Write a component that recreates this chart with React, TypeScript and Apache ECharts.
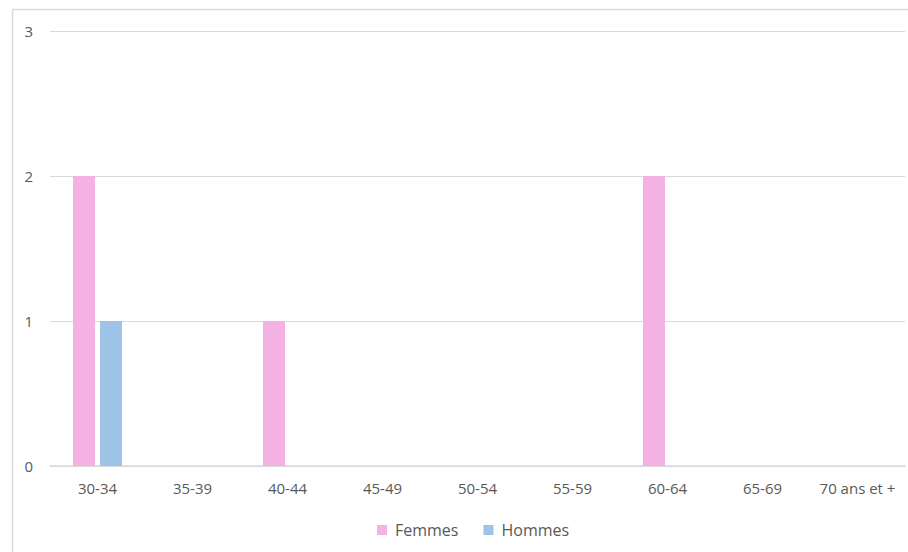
import React, { useEffect, useRef } from "react";
import * as echarts from "echarts";

const categories = ["30-34", "35-39", "40-44", "45-49", "50-54", "55-59", "60-64", "65-69", "70 ans et +"];
const femmes = [2, 0, 1, 0, 0, 0, 2, 0, 0];
const hommes = [1, 0, 0, 0, 0, 0, 0, 0, 0];
const seriesNames = ["Femmes", "Hommes"];
const yTicks = [0, 1, 2, 3];

export default function App() {
  const ref = useRef<HTMLDivElement>(null);
  useEffect(() => {
    if (!ref.current) return;
    const chart = echarts.init(ref.current, undefined, { renderer: "svg" });
    const font = "'Open Sans', sans-serif";
    chart.setOption({
      animation: false,
      backgroundColor: "#ffffff",
      textStyle: { fontFamily: font },
      graphic: [
        {
          type: "rect",
          shape: { x: 12.5, y: 9.5, width: 1000, height: 1000 },
          style: { fill: "none", stroke: "#d9d9d9", lineWidth: 1.5 },
          silent: true,
        },
      ],
      grid: { left: 50, right: 3, top: 31, bottom: 86, containLabel: false },
      legend: {
        data: seriesNames,
        bottom: 9,
        left: 372,
        itemWidth: 10,
        itemHeight: 10,
        itemGap: 25,
        icon: "rect",
        textStyle: { color: "#595959", fontSize: 16, fontFamily: font, padding: [0, 0, 0, 3] },
      },
      xAxis: {
        type: "category",
        data: categories,
        axisLine: { lineStyle: { color: "#d9d9d9", width: 1.5 } },
        axisTick: { show: false },
        axisLabel: { color: "#595959", fontSize: 15, margin: 14, interval: 0, fontFamily: font },
      },
      yAxis: {
        type: "value",
        min: yTicks[0],
        max: yTicks[yTicks.length - 1],
        interval: 1,
        axisLine: { show: false },
        axisTick: { show: false },
        axisLabel: { color: "#595959", fontSize: 15, margin: 17, fontFamily: font },
        splitLine: { lineStyle: { color: "#d9d9d9", width: 1.2 } },
      },
      series: [
        {
          name: seriesNames[0],
          type: "bar",
          data: femmes,
          barWidth: 22,
          barGap: "23%",
          itemStyle: { color: "#F4B1E3" },
        },
        {
          name: seriesNames[1],
          type: "bar",
          data: hommes,
          barWidth: 22,
          barGap: "23%",
          itemStyle: { color: "#9DC3E6" },
        },
      ],
    });
    return () => chart.dispose();
  }, []);
  return (
    <div
      ref={ref}
      style={{ position: "fixed", left: 0, top: 0, width: 908, height: 552, overflow: "hidden" }}
    />
  );
}
